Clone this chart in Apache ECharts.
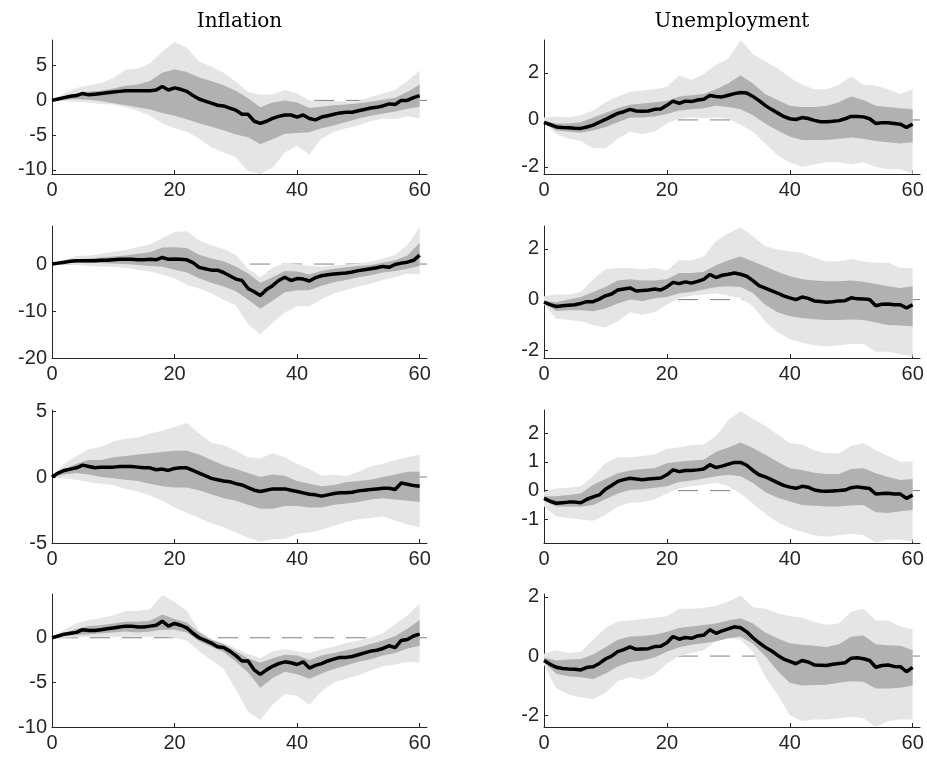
<!DOCTYPE html>
<html>
<head>
<meta charset="utf-8">
<script src="https://cdn.jsdelivr.net/npm/echarts@6/dist/echarts.min.js"></script>
<style>
  html, body { margin: 0; padding: 0; background: #ffffff; }
  #chart { width: 927px; height: 758px; }
</style>
</head>
<body>
<div id="chart"></div>
<script>
// Horizons: the median is given at every step, the credible bands at every second step.
const steps = [0,1,2,3,4,5,6,7,8,9,10,11,12,13,14,15,16,17,18,19,20,21,22,23,24,25,26,27,28,29,30,
               31,32,33,34,35,36,37,38,39,40,41,42,43,44,45,46,47,48,49,50,51,52,53,54,55,56,57,58,59,60];
const bandSteps = [0,2,4,6,8,10,12,14,16,18,20,22,24,26,28,30,32,34,36,38,40,42,44,46,48,50,52,54,56,58,60];
const xTicks = [0, 20, 40, 60];

// ---- Inflation, first shock ----
const infl1Med = [0,0.2,0.4,0.6,0.7,1.0,0.8,0.9,1.0,1.1, 1.2,1.3,1.4,1.4,1.4,1.4,1.4,1.5,2.0,1.5,
  1.8,1.6,1.3,0.7,0.2,-0.1,-0.4,-0.7,-0.8,-1.1, -1.4,-2.0,-2.0,-3.0,-3.3,-3.0,-2.6,-2.3,-2.1,-2.1,
  -2.4,-2.1,-2.6,-2.8,-2.4,-2.2,-2.0,-1.8,-1.7,-1.7, -1.5,-1.3,-1.1,-1.0,-0.8,-0.5,-0.6,0.0,0.0,0.4, 0.7];
const infl1OutHi = [0,1.0,1.8,2.2,2.5,3.2,4.4,4.6,5.3,7.0, 8.4,7.6,5.6,4.9,4.0,2.7,1.2,0.8,0.9,1.5,
  1.0,0.0,-0.1,-0.1,-0.2,-0.1,0.5,1.0,1.5,2.8, 4.3];
const infl1OutLo = [0,-0.1,-0.2,-0.3,-0.5,-0.6,-1.0,-1.5,-2.2,-3.3, -4.0,-4.5,-5.5,-6.8,-7.5,-8.2,-10.2,-10.6,-9.7,-7.5,
  -6.5,-7.8,-5.5,-4.5,-4.0,-3.6,-3.0,-2.6,-2.7,-2.3, -2.6];
const infl1InHi = [0,0.6,1.0,1.3,1.4,1.7,2.1,2.3,2.8,4.0, 4.5,4.1,3.3,2.8,2.2,1.4,0.3,-1.0,-0.3,0.0,
  -0.3,-1.1,-0.9,-0.7,-0.6,-0.4,-0.2,0.1,0.4,1.2, 2.3];
const infl1InLo = [0,0.1,0.2,0.1,-0.1,-0.4,-0.7,-1.0,-1.3,-1.8, -2.2,-2.7,-3.3,-3.8,-4.3,-4.9,-5.3,-6.3,-5.6,-4.8,
  -4.7,-4.6,-4.0,-3.6,-3.1,-2.6,-2.2,-1.9,-1.6,-1.2, -0.9];
const infl1Ticks = [-10, -5, 0, 5];

// ---- Inflation, second shock ----
const infl2Med = [0,0.2,0.4,0.6,0.7,0.7,0.7,0.7,0.8,0.8, 0.9,1.0,1.0,1.0,0.9,0.9,1.0,0.9,1.4,1.0,
  1.1,1.0,0.9,0.3,-0.7,-1.0,-1.3,-1.3,-1.8,-2.5, -3.2,-3.5,-5.2,-5.9,-6.7,-5.4,-4.6,-3.5,-2.8,-3.5,
  -3.1,-3.2,-3.6,-2.9,-2.5,-2.3,-2.1,-2.0,-1.9,-1.7, -1.4,-1.2,-1.0,-0.8,-0.5,-0.7,-0.1,0.2,0.4,0.8, 1.9];
const infl2OutHi = [0,0.8,1.7,1.8,2.2,2.6,3.0,3.6,4.2,5.5, 6.8,7.0,5.0,4.0,3.2,2.0,-1.0,-2.8,-0.8,0.3,
  0.0,-0.4,-0.5,-0.3,-0.1,0.1,0.5,1.2,2.0,4.0, 7.9];
const infl2OutLo = [0,-0.1,-0.2,-0.4,-0.5,-0.6,-0.8,-1.2,-1.6,-2.3, -3.0,-4.4,-5.2,-6.2,-7.6,-8.8,-12.8,-15.0,-12.5,-10.3,
  -9.0,-9.0,-7.5,-6.2,-5.5,-4.8,-4.2,-3.4,-2.8,-2.0, -2.2];
const infl2InHi = [0,0.5,1.0,1.2,1.4,1.6,1.8,2.2,2.5,3.5, 3.6,3.4,2.0,1.2,0.6,-0.5,-2.0,-4.0,-2.8,-1.5,
  -1.6,-2.2,-1.4,-1.0,-0.7,-0.4,-0.2,0.3,0.8,1.8, 4.5];
const infl2InLo = [0,0.2,0.3,0.2,0.2,0.1,0.0,-0.2,-0.4,-0.6, -1.2,-1.8,-3.0,-4.0,-4.8,-5.8,-7.6,-9.5,-7.8,-6.0,
  -5.6,-5.6,-4.6,-3.9,-3.4,-2.8,-2.4,-1.8,-1.5,-1.0, -0.4];
const infl2Ticks = [-20, -10, 0];

// ---- Inflation, third shock ----
const infl3Med = [0,0.3,0.5,0.6,0.7,0.9,0.8,0.7,0.75,0.75, 0.75,0.8,0.8,0.8,0.75,0.7,0.7,0.55,0.6,0.5,
  0.65,0.7,0.7,0.5,0.3,0.1,-0.1,-0.2,-0.3,-0.35, -0.5,-0.6,-0.8,-1.0,-1.1,-1.0,-0.9,-0.9,-0.9,-1.0,
  -1.1,-1.2,-1.3,-1.35,-1.45,-1.35,-1.25,-1.2,-1.2,-1.15, -1.05,-1.0,-0.95,-0.9,-0.85,-0.85,-0.95,-0.45,-0.55,-0.65, -0.7];
const infl3OutHi = [0,1.0,1.6,2.1,2.3,2.7,2.9,3.0,3.3,3.5, 3.8,4.1,3.3,2.6,2.4,2.0,1.5,1.4,1.8,1.5,
  1.0,0.6,0.1,0.2,0.05,0.4,0.8,1.0,1.3,1.5, 1.7];
const infl3OutLo = [0,-0.1,-0.2,-0.4,-0.5,-0.6,-0.9,-1.1,-1.4,-1.8, -2.3,-2.7,-3.1,-3.5,-3.8,-4.2,-4.6,-4.9,-4.7,-4.7,
  -4.3,-4.2,-4.0,-3.7,-3.4,-3.2,-3.1,-3.0,-3.3,-3.6, -3.8];
const infl3InHi = [0,0.6,1.0,1.3,1.3,1.5,1.6,1.7,1.8,1.9, 2.0,2.0,1.7,1.3,0.9,0.6,0.3,0.0,0.2,0.1,
  -0.3,-0.5,-0.7,-0.6,-0.4,-0.3,-0.2,0.0,0.2,0.4, 0.4];
const infl3InLo = [0,0.2,0.3,0.2,0.0,-0.1,-0.2,-0.3,-0.5,-0.7, -0.8,-0.8,-1.0,-1.3,-1.6,-1.8,-2.1,-2.4,-2.4,-2.2,
  -2.2,-2.3,-2.3,-2.1,-2.0,-1.9,-1.7,-1.6,-1.7,-1.8, -1.9];
const infl3Ticks = [-5, 0, 5];

// ---- Inflation, fourth shock ----
const infl4Med = [0,0.2,0.4,0.5,0.6,0.9,0.8,0.8,0.9,1.0, 1.1,1.2,1.3,1.3,1.2,1.2,1.3,1.4,1.85,1.3,
  1.6,1.4,1.1,0.5,0.0,-0.3,-0.6,-1.0,-1.1,-1.5, -2.0,-2.6,-2.6,-3.6,-4.1,-3.6,-3.2,-2.9,-2.7,-2.8,
  -3.0,-2.7,-3.4,-3.1,-2.9,-2.6,-2.4,-2.2,-2.2,-2.1, -1.9,-1.7,-1.5,-1.4,-1.2,-0.9,-1.1,-0.3,-0.2,0.2, 0.4];
const infl4OutHi = [0,0.9,1.6,2.0,2.2,2.5,3.0,3.0,3.2,4.8, 4.0,3.0,0.8,-0.2,-0.6,-1.2,-1.8,-2.3,-1.5,-1.3,
  -1.5,-1.7,-1.3,-1.0,-0.6,-0.3,0.0,0.5,1.5,2.5, 3.8];
const infl4OutLo = [0,0.0,0.05,0.1,0.1,0.1,0.1,0.1,0.1,0.1, 0.0,-0.3,-1.5,-2.5,-3.5,-5.8,-8.3,-9.2,-7.5,-6.3,
  -6.5,-7.5,-6.0,-5.0,-4.6,-4.2,-3.7,-3.2,-3.0,-2.7, -2.8];
const infl4InHi = [0,0.5,1.0,1.3,1.4,1.6,1.8,1.8,1.9,2.6, 2.1,1.7,0.6,-0.2,-0.7,-1.5,-2.3,-2.8,-2.3,-1.9,
  -2.0,-2.5,-2.0,-1.7,-1.4,-1.1,-0.7,-0.3,0.2,1.0, 2.0];
const infl4InLo = [0,0.2,0.3,0.4,0.5,0.6,0.7,0.6,0.7,0.9, 0.9,0.6,-0.4,-1.0,-1.6,-2.7,-3.9,-5.6,-4.5,-3.8,
  -4.1,-4.6,-4.0,-3.5,-3.1,-2.7,-2.4,-2.0,-1.7,-1.2, -0.9];
const infl4Ticks = [-10, -5, 0];

// ---- Unemployment, first shock ----
const unemp1Med = [-0.1,-0.2,-0.3,-0.32,-0.33,-0.35,-0.36,-0.3,-0.22,-0.1, 0.02,0.15,0.28,0.35,0.45,0.38,0.37,0.38,0.45,0.46,
  0.62,0.8,0.7,0.8,0.78,0.85,0.88,1.04,1.0,0.98, 1.05,1.12,1.17,1.15,1.0,0.82,0.62,0.45,0.3,0.15,
  0.05,0.02,0.1,0.06,-0.02,-0.08,-0.08,-0.06,-0.03,0.05, 0.15,0.15,0.13,0.05,-0.15,-0.12,-0.12,-0.15,-0.18,-0.32, -0.17];
const unemp1OutHi = [0.1,0.15,0.1,0.2,0.4,0.75,1.0,1.2,1.25,1.3, 1.4,1.9,1.7,1.95,2.35,2.6,3.4,2.8,2.5,2.2,
  1.8,1.5,1.3,1.3,1.5,1.85,1.5,1.45,1.3,1.1, 1.3];
const unemp1OutLo = [-0.1,-0.6,-0.8,-0.9,-1.2,-1.2,-0.8,-0.5,-0.6,-0.5, -0.15,0.05,0.1,0.08,0.1,0.05,-0.2,-0.5,-1.0,-1.5,
  -1.8,-2.0,-1.9,-1.8,-1.8,-1.9,-1.8,-2.0,-2.1,-2.1, -2.3];
const unemp1InHi = [-0.05,-0.15,-0.15,-0.1,0.1,0.3,0.5,0.65,0.7,0.75, 0.8,1.0,1.05,1.1,1.3,1.55,1.9,1.55,1.1,0.85,
  0.6,0.55,0.55,0.6,0.75,1.0,0.85,0.6,0.55,0.5, 0.45];
const unemp1InLo = [-0.15,-0.45,-0.5,-0.55,-0.45,-0.3,-0.1,0.1,0.1,0.15, 0.25,0.4,0.45,0.5,0.6,0.55,0.45,0.2,-0.15,-0.45,
  -0.7,-0.85,-0.85,-0.85,-0.8,-0.75,-0.8,-0.9,-0.95,-1.0, -0.95];
const unemp1Ticks = [-2, 0, 2];

// ---- Unemployment, second shock ----
const unemp2Med = [-0.1,-0.2,-0.27,-0.24,-0.22,-0.2,-0.15,-0.08,-0.08,0.02, 0.15,0.22,0.38,0.42,0.46,0.34,0.36,0.38,0.42,0.38,
  0.5,0.68,0.63,0.7,0.65,0.72,0.8,0.99,0.87,0.96, 1.0,1.05,1.0,0.92,0.75,0.55,0.45,0.35,0.26,0.15,
  0.07,0.0,0.1,0.05,-0.05,-0.07,-0.1,-0.08,-0.05,-0.04, 0.07,0.03,0.02,0.0,-0.24,-0.18,-0.17,-0.2,-0.2,-0.33, -0.2];
const unemp2OutHi = [0.13,0.2,0.2,0.3,0.8,1.2,1.25,1.25,1.2,1.25, 1.15,1.55,1.55,1.7,2.3,2.6,2.85,2.5,2.1,1.97,
  1.9,1.85,1.65,1.5,1.5,1.6,1.5,1.45,1.45,1.25, 1.25];
const unemp2OutLo = [-0.2,-0.75,-0.8,-0.85,-1.0,-1.1,-0.85,-0.5,-0.6,-0.5, -0.2,0.05,0.15,0.2,0.25,0.15,0.05,-0.25,-0.85,-1.3,
  -1.55,-1.7,-1.8,-1.85,-1.8,-1.75,-1.75,-2.05,-2.05,-2.15, -2.25];
const unemp2InHi = [-0.05,-0.1,0.0,0.1,0.3,0.5,0.75,0.8,0.75,0.75, 0.8,1.05,1.05,1.1,1.35,1.55,1.7,1.5,1.3,1.1,
  0.92,0.8,0.75,0.72,0.72,0.75,0.7,0.62,0.53,0.46, 0.53];
const unemp2InLo = [-0.15,-0.45,-0.42,-0.42,-0.46,-0.35,-0.15,0.0,-0.05,0.05, 0.1,0.25,0.3,0.4,0.5,0.53,0.5,0.26,-0.2,-0.5,
  -0.66,-0.72,-0.77,-0.8,-0.8,-0.78,-0.8,-0.9,-1.0,-1.02, -1.05];
const unemp2Ticks = [-2, 0, 2];

// ---- Unemployment, third shock ----
const unemp3Med = [-0.27,-0.37,-0.44,-0.42,-0.4,-0.4,-0.42,-0.3,-0.22,-0.15, 0.05,0.18,0.32,0.38,0.43,0.4,0.38,0.4,0.42,0.44,
  0.55,0.72,0.66,0.7,0.7,0.72,0.75,0.9,0.8,0.85, 0.92,0.98,0.98,0.88,0.7,0.55,0.48,0.38,0.28,0.18,
  0.12,0.08,0.15,0.12,0.02,-0.01,-0.02,-0.01,0.0,0.02, 0.1,0.13,0.1,0.07,-0.12,-0.1,-0.09,-0.12,-0.12,-0.27, -0.15];
const unemp3OutHi = [-0.05,0.08,0.1,0.15,0.5,0.95,1.16,1.16,1.2,1.25, 1.45,1.5,1.58,1.6,1.9,2.45,2.76,2.5,2.25,1.95,
  1.65,1.6,1.4,1.3,1.3,1.55,1.65,1.4,1.2,1.0, 1.01];
const unemp3OutLo = [-0.55,-0.9,-0.95,-1.0,-1.05,-0.85,-0.55,-0.42,-0.4,-0.3, -0.1,0.08,0.15,0.2,0.28,0.15,-0.1,-0.45,-0.8,-1.1,
  -1.3,-1.43,-1.55,-1.6,-1.55,-1.5,-1.55,-1.8,-1.7,-1.7, -1.78];
const unemp3InHi = [-0.2,-0.2,-0.15,-0.1,0.2,0.4,0.6,0.7,0.75,0.78, 0.95,1.0,1.05,1.07,1.35,1.5,1.67,1.48,1.25,1.0,
  0.78,0.72,0.62,0.58,0.58,0.75,0.78,0.6,0.47,0.37, 0.4];
const unemp3InLo = [-0.35,-0.55,-0.55,-0.56,-0.5,-0.3,-0.1,0.02,0.05,0.1, 0.15,0.3,0.35,0.42,0.5,0.55,0.5,0.26,-0.05,-0.25,
  -0.38,-0.5,-0.53,-0.55,-0.55,-0.52,-0.5,-0.75,-0.78,-0.72, -0.67];
const unemp3Ticks = [-1, 0, 1, 2];

// ---- Unemployment, fourth shock ----
const unemp4Med = [-0.15,-0.28,-0.38,-0.42,-0.44,-0.45,-0.47,-0.38,-0.36,-0.25, -0.1,0.0,0.15,0.22,0.31,0.23,0.24,0.25,0.32,0.33,
  0.45,0.66,0.57,0.63,0.6,0.68,0.71,0.89,0.77,0.85, 0.92,0.99,0.96,0.82,0.62,0.45,0.3,0.18,0.03,-0.1,
  -0.18,-0.26,-0.15,-0.2,-0.3,-0.31,-0.32,-0.28,-0.25,-0.23, -0.07,-0.06,-0.09,-0.15,-0.38,-0.32,-0.3,-0.35,-0.36,-0.53, -0.38];
const unemp4OutHi = [0.08,0.2,0.1,0.15,0.55,0.95,1.17,1.2,1.25,1.3, 1.35,1.6,1.6,1.63,1.7,1.85,2.05,1.65,1.6,1.45,
  1.35,1.3,1.15,1.06,1.1,1.5,1.6,1.2,1.2,1.0, 0.9];
const unemp4OutLo = [-0.3,-1.1,-1.3,-1.4,-1.45,-1.25,-0.85,-0.72,-0.8,-0.62, -0.25,0.0,0.1,0.2,0.5,0.6,0.55,0.15,-0.7,-1.3,
  -2.0,-2.2,-2.15,-2.15,-2.1,-2.05,-2.1,-2.4,-2.2,-2.15, -2.15];
const unemp4InHi = [-0.05,-0.15,-0.12,-0.1,0.05,0.3,0.55,0.66,0.68,0.72, 0.82,0.95,1.0,1.05,1.1,1.2,1.28,1.1,0.8,0.6,
  0.43,0.38,0.35,0.31,0.4,0.65,0.7,0.4,0.37,0.35, 0.2];
const unemp4InLo = [-0.2,-0.6,-0.68,-0.72,-0.78,-0.6,-0.35,-0.2,-0.15,-0.05, 0.15,0.3,0.38,0.43,0.5,0.6,0.66,0.42,0.0,-0.5,
  -0.9,-1.0,-0.98,-0.97,-0.9,-0.85,-0.87,-1.1,-1.1,-1.07, -1.0];
const unemp4Ticks = [-2, 0, 2];

// Panel table: which arrays go in which cell, plus the y-axis limits of that cell.
const panels = [
  { col: 0, row: 0, med: infl1Med, outLo: infl1OutLo, outHi: infl1OutHi, inLo: infl1InLo, inHi: infl1InHi, yMin: -10.6, yMax: 8.7, yTicks: infl1Ticks },
  { col: 0, row: 1, med: infl2Med, outLo: infl2OutLo, outHi: infl2OutHi, inLo: infl2InLo, inHi: infl2InHi, yMin: -20, yMax: 8.1, yTicks: infl2Ticks },
  { col: 0, row: 2, med: infl3Med, outLo: infl3OutLo, outHi: infl3OutHi, inLo: infl3InLo, inHi: infl3InHi, yMin: -5, yMax: 5.08, yTicks: infl3Ticks },
  { col: 0, row: 3, med: infl4Med, outLo: infl4OutLo, outHi: infl4OutHi, inLo: infl4InLo, inHi: infl4InHi, yMin: -10, yMax: 4.9, yTicks: infl4Ticks },
  { col: 1, row: 0, med: unemp1Med, outLo: unemp1OutLo, outHi: unemp1OutHi, inLo: unemp1InLo, inHi: unemp1InHi, yMin: -2.3, yMax: 3.4, yTicks: unemp1Ticks },
  { col: 1, row: 1, med: unemp2Med, outLo: unemp2OutLo, outHi: unemp2OutHi, inLo: unemp2InLo, inHi: unemp2InHi, yMin: -2.3, yMax: 2.9, yTicks: unemp2Ticks },
  { col: 1, row: 2, med: unemp3Med, outLo: unemp3OutLo, outHi: unemp3OutHi, inLo: unemp3InLo, inHi: unemp3InHi, yMin: -1.82, yMax: 2.8, yTicks: unemp3Ticks },
  { col: 1, row: 3, med: unemp4Med, outLo: unemp4OutLo, outHi: unemp4OutHi, inLo: unemp4InLo, inHi: unemp4InHi, yMin: -2.4, yMax: 2.1, yTicks: unemp4Ticks }
];

// Page layout
const X_MAX = 61.2;
const colLeft = [52, 544];
const colWidth = [375, 376];
const rowTop = [40, 226, 410, 594];
const rowHeight = [134, 132, 133, 133];
const INK = '#262626';
const LIGHT_BAND = '#e5e5e5';
const DARK_BAND = '#b1b1b1';
const tickFont = { color: INK, fontFamily: 'Liberation Sans, Arial, sans-serif', fontSize: 20 };

// A shaded band drawn as one polygon: upper edge left to right, lower edge back.
function bandSeries(idx, lo, hi, color, z) {
  return {
    type: 'custom',
    coordinateSystem: 'cartesian2d',
    xAxisIndex: idx, yAxisIndex: idx,
    silent: true, z: z, clip: true,
    data: bandSteps.map((h, i) => [h, lo[i], hi[i]]),
    encode: { x: 0, y: [1, 2] },
    renderItem(params, api) {
      if (params.dataIndex !== 0) return null;
      const upper = bandSteps.map((h, i) => api.coord([h, hi[i]]));
      const lower = bandSteps.map((h, i) => api.coord([h, lo[i]])).reverse();
      return { type: 'polygon', shape: { points: upper.concat(lower) }, style: { fill: color } };
    }
  };
}

const grid = [], xAxis = [], yAxis = [], series = [];
panels.forEach((p, i) => {
  grid.push({ left: colLeft[p.col], top: rowTop[p.row], width: colWidth[p.col], height: rowHeight[p.row], containLabel: false });
  xAxis.push({
    gridIndex: i, type: 'value', min: 0, max: X_MAX,
    axisLine: { show: true, onZero: false, lineStyle: { color: INK, width: 1 } },
    axisTick: { show: true, inside: true, length: 4, customValues: xTicks, lineStyle: { color: INK, width: 1 } },
    axisLabel: Object.assign({ margin: 6, customValues: xTicks }, tickFont),
    splitLine: { show: false }
  });
  yAxis.push({
    gridIndex: i, type: 'value', min: p.yMin, max: p.yMax,
    axisLine: { show: true, onZero: false, lineStyle: { color: INK, width: 1 } },
    axisTick: { show: true, inside: true, length: 4, customValues: p.yTicks, lineStyle: { color: INK, width: 1 } },
    axisLabel: Object.assign({ margin: 5, customValues: p.yTicks }, tickFont),
    splitLine: { show: false }
  });
  // zero reference line, underneath the bands
  series.push({
    type: 'line', xAxisIndex: i, yAxisIndex: i, silent: true, z: 1,
    data: [[0, 0], [X_MAX, 0]], showSymbol: false,
    lineStyle: { color: '#808080', width: 1, type: [20, 12], dashOffset: 26 }
  });
  series.push(bandSeries(i, p.outLo, p.outHi, LIGHT_BAND, 2));
  series.push(bandSeries(i, p.inLo, p.inHi, DARK_BAND, 3));
  series.push({
    type: 'line', xAxisIndex: i, yAxisIndex: i, silent: true, z: 4,
    data: steps.map((h, k) => [h, p.med[k]]), showSymbol: false,
    lineStyle: { color: '#000000', width: 3.5 }
  });
});

const titleFont = { fontFamily: 'DejaVu Serif, serif', fontSize: 20, fill: '#000000', textAlign: 'center', textVerticalAlign: 'middle' };
const chart = echarts.init(document.getElementById('chart'), null, { renderer: 'canvas' });
chart.setOption({
  animation: false,
  backgroundColor: '#ffffff',
  grid, xAxis, yAxis, series,
  graphic: [
    { type: 'text', x: 239.5, y: 22, style: Object.assign({ text: 'Inflation' }, titleFont) },
    { type: 'text', x: 732, y: 22, style: Object.assign({ text: 'Unemployment' }, titleFont) }
  ]
});
</script>
</body>
</html>
